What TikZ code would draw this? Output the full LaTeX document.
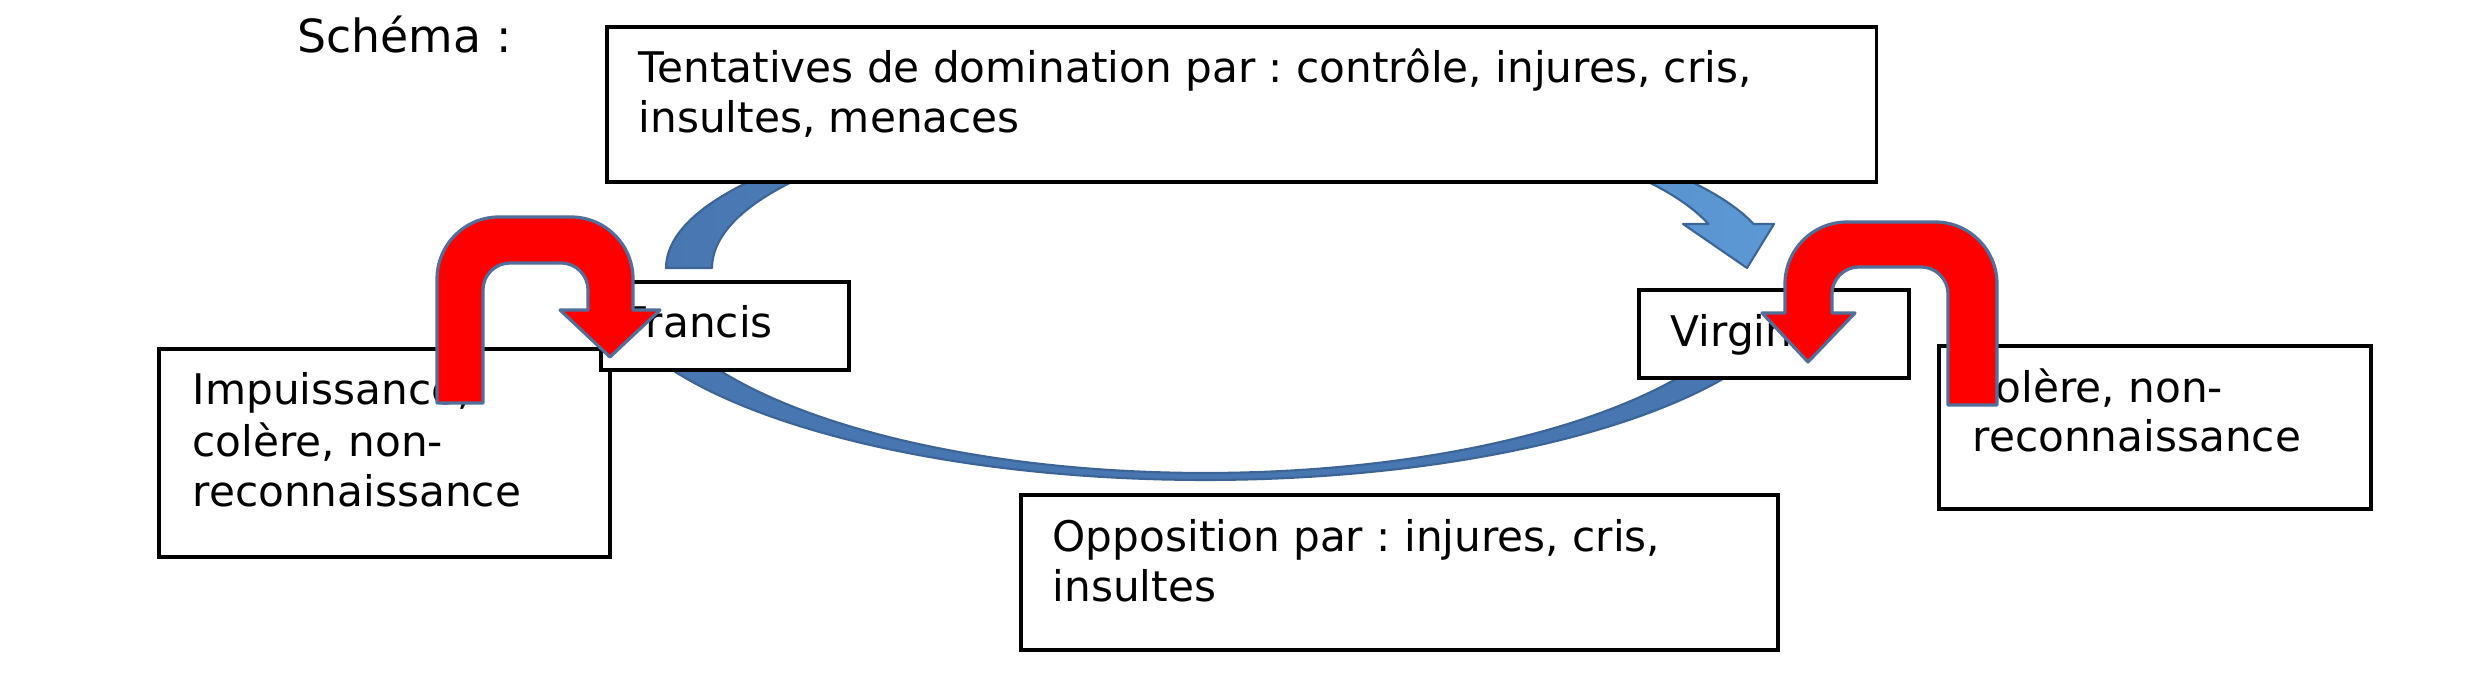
\documentclass[tikz,border=0pt]{standalone}
\usepackage{fontspec}
\setmainfont{DejaVu Sans}
\frenchspacing
\definecolor{arcdark}{RGB}{72,118,176}
\definecolor{arclight}{RGB}{92,152,212}
\definecolor{arcline}{RGB}{60,100,150}
\definecolor{redfill}{RGB}{255,0,0}
\definecolor{redline}{RGB}{80,112,155}
\newcommand\txtfont{\fontsize{12pt}{14pt}\selectfont}
\newcommand\titlefont{\fontsize{13pt}{15pt}\selectfont}
\tikzset{
  box/.style={draw=black, line width=1pt, fill=white, inner sep=0pt, anchor=north west},
  txt/.style={anchor=base west, inner sep=0pt, font=\txtfont},
  uturn/.style={draw=redline, line width=0.9pt, fill=redfill, line join=round},
  blueband/.style={draw=arcline, line width=0.6pt, line join=round},
}
\begin{document}
\begin{tikzpicture}[x=0.01cm, y=-0.01cm]
\useasboundingbox (0,0) rectangle (2481,695);
\fill[white] (0,0) rectangle (2481,695);

% upper blue arc (Francis -> Virginie)
\draw[blueband, left color=arcdark, right color=arclight]
  plot[domain=180:344.44, samples=90, variable=\t] ({1220+554*cos(\t)}, {268+164*sin(\t)})
  -- (1774,224) -- (1747,268) -- (1683,224)
  -- plot[domain=344.04:180, samples=90, variable=\t] ({1220+508*cos(\t)}, {268+160*sin(\t)})
  -- cycle;

% lower blue arc (Virginie -> Francis)
\draw[blueband, fill=arcdark]
  plot[domain=20:160, samples=90, variable=\t] ({1205+606*cos(\t)}, {270+210*sin(\t)})
  -- plot[domain=160:20, samples=90, variable=\t] ({1205+565*cos(\t)}, {263+210*sin(\t)})
  -- cycle;

% title
\node[anchor=base west, inner sep=0pt, font=\titlefont] (schema) at (297,53) {Schéma :};

% boxes
\node[box, minimum width=12.69cm, minimum height=1.55cm] (top) at (605,25) {};
\node[txt] (top1) at (638,83) {Tentatives de domination par : contrôle, injures, cris,};
\node[txt] (top2) at (638,133) {insultes, menaces};

\node[box, minimum width=4.51cm, minimum height=2.08cm] (left) at (157,347) {};
\node[txt] (left1) at (192,405) {Impuissance,};
\node[txt] (left2) at (192,457) {colère, non-};
\node[txt] (left3) at (192,507) {reconnaissance};

\node[box, minimum width=2.48cm, minimum height=0.88cm] (francis) at (599,280) {};
\node[txt] (francist) at (624,338) {Francis};

\node[box, minimum width=2.70cm, minimum height=0.88cm] (virginie) at (1637,288) {};
\node[txt] (virginiet) at (1670,347) {Virginie};

\node[box, minimum width=4.32cm, minimum height=1.63cm] (right) at (1937,344) {};
\node[txt] (right1) at (1972,403) {colère, non-};
\node[txt] (right2) at (1972,452) {reconnaissance};

\node[box, minimum width=7.57cm, minimum height=1.55cm] (bottom) at (1019,493) {};
\node[txt] (bot1) at (1052,552) {Opposition par : injures, cris,};
\node[txt] (bot2) at (1052,602) {insultes};

% left red U-turn arrow
\draw[uturn]
  (437,403) -- (437,279) arc[start angle=180, end angle=90, radius=6.2mm]
  -- (571,217) arc[start angle=90, end angle=0, radius=6.2mm]
  -- (633,310) -- (660,310) -- (610,357) -- (560,310) -- (588,310)
  -- (588,290) arc[start angle=0, end angle=90, radius=2.7mm]
  -- (510,263) arc[start angle=90, end angle=180, radius=2.7mm]
  -- (483,403) -- cycle;

% right red U-turn arrow
\draw[uturn]
  (1997,405) -- (1997,284) arc[start angle=0, end angle=90, radius=6.2mm]
  -- (1847,222) arc[start angle=90, end angle=180, radius=6.2mm]
  -- (1785,313) -- (1762,313) -- (1808,362) -- (1855,313) -- (1832,313)
  -- (1832,294) arc[start angle=180, end angle=90, radius=2.7mm]
  -- (1921,267) arc[start angle=90, end angle=0, radius=2.7mm]
  -- (1948,405) -- cycle;
\end{tikzpicture}
\end{document}
